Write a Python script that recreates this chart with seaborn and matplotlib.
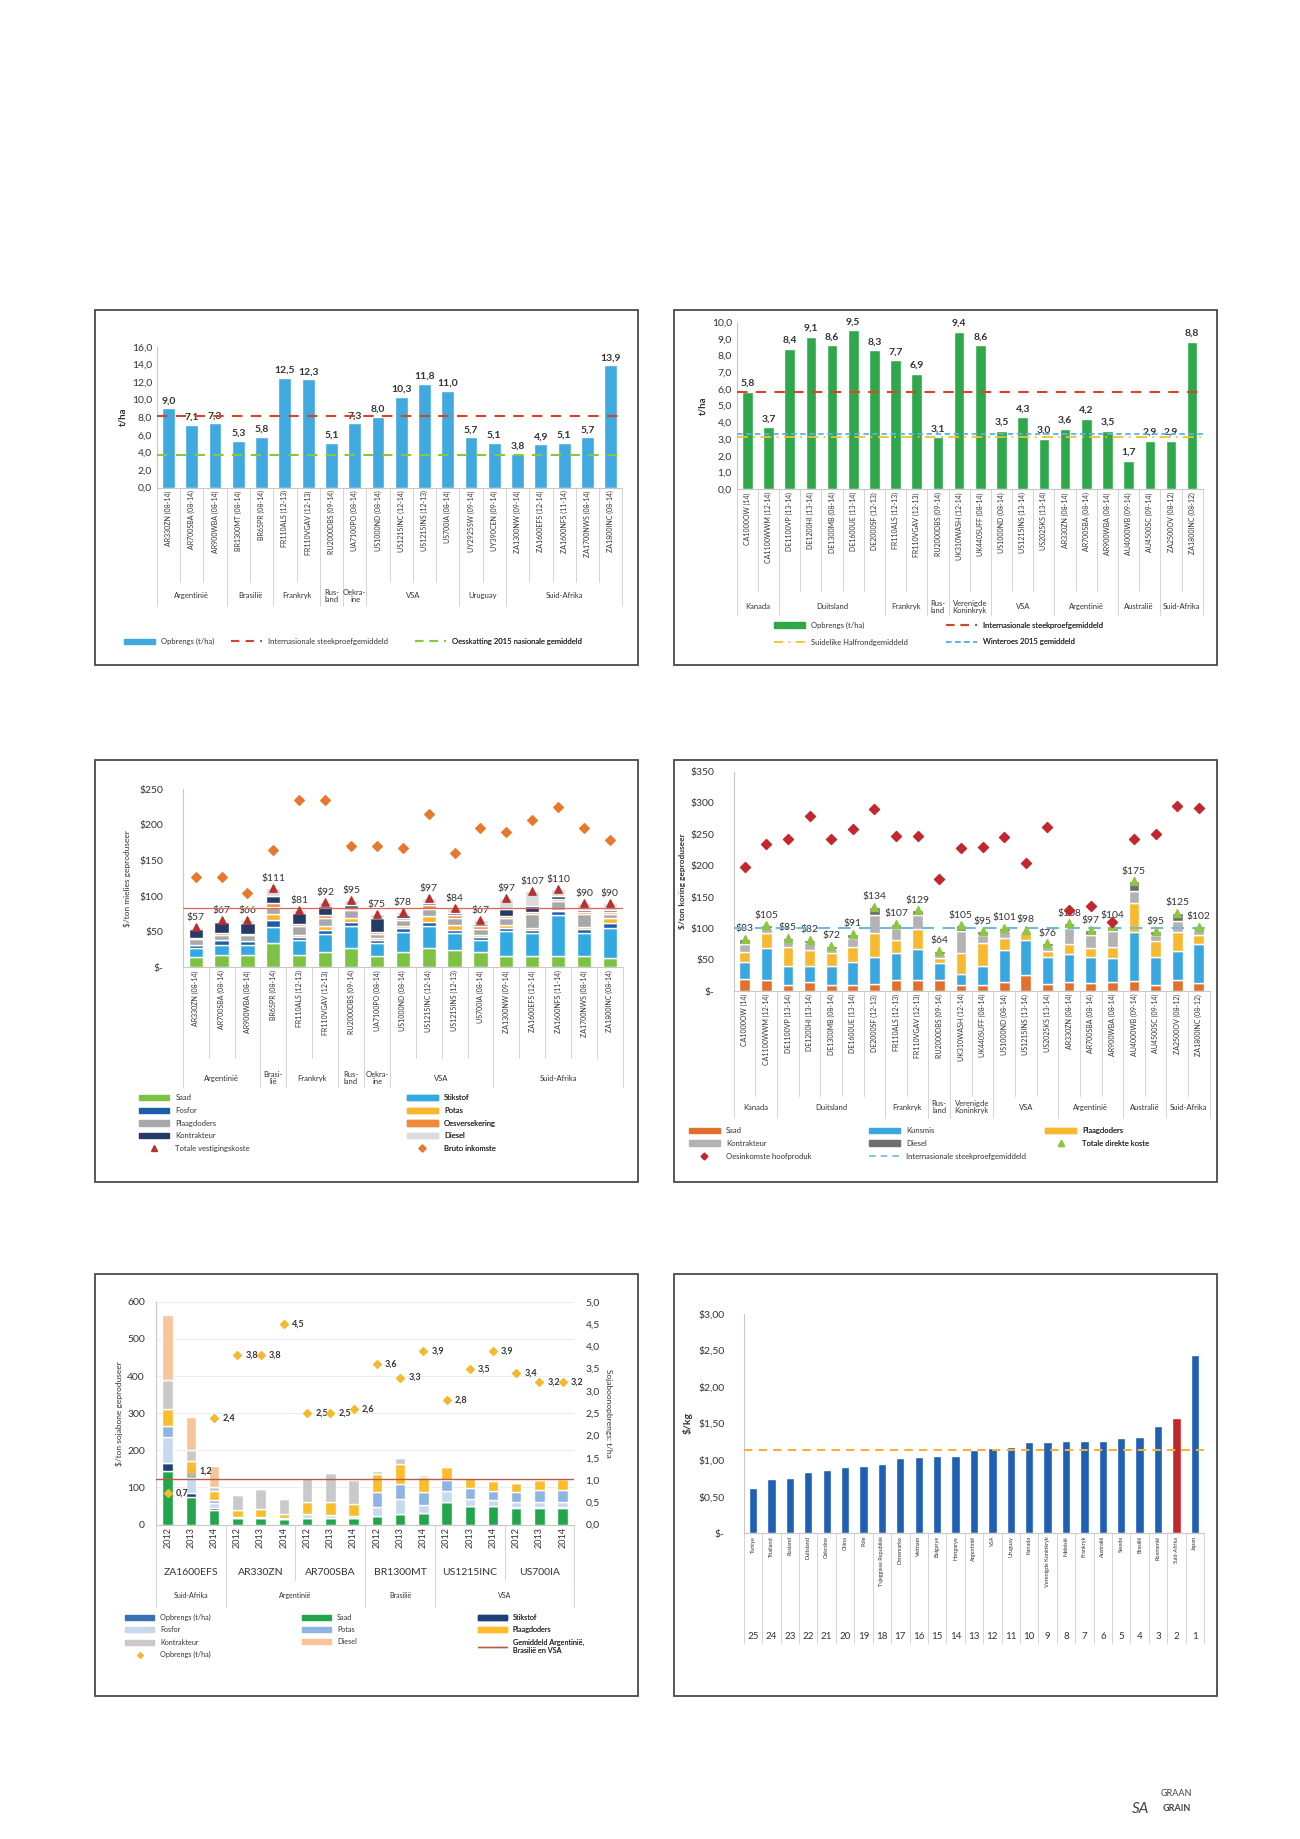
import numpy as np
import pandas as pd
import matplotlib
matplotlib.use('Agg')
import matplotlib.pyplot as plt
from matplotlib.patches import Rectangle, Patch
from matplotlib.lines import Line2D
import seaborn as sns

sns.set_theme(style='white')
plt.rcParams['font.family'] = ['Lato', 'DejaVu Sans']

# ---- Chart 1: maize yields (t/ha)
maize_farms = ['AR330ZN (08-14)', 'AR700SBA (08-14)', 'AR900WBA (08-14)', 'BR1300MT (08-14)',
               'BR65PR (08-14)', 'FR110ALS (12-13)', 'FR110VGAV (12-13)', 'RU2000DBS (09-14)',
               'UA7100PO (08-14)', 'US1000ND (08-14)', 'US1215INC (12-14)', 'US1215INS (12-13)',
               'US700IA (08-14)', 'UY2925SW (09-14)', 'UY390CEN (09-14)', 'ZA1300NW (09-14)',
               'ZA1600EFS (12-14)', 'ZA1600NFS (11-14)', 'ZA1700NWS (08-14)', 'ZA1800INC (08-14)']
maize_yield = [9.0, 7.1, 7.3, 5.3, 5.8, 12.5, 12.3, 5.1, 7.3, 8.0,
               10.3, 11.8, 11.0, 5.7, 5.1, 3.8, 4.9, 5.1, 5.7, 13.9]
maize_groups = [('Argentinië', 3), ('Brasilië', 2), ('Frankryk', 2), ('Rus-\nland', 1),
                ('Oekra-\nïne', 1), ('VSA', 4), ('Uruguay', 2), ('Suid-Afrika', 5)]
maize_intl_avg = 8.1
maize_sa_estimate = 3.7

# ---- Chart 2: wheat yields (t/ha)
wheat_farms = ['CA1000OW (14)', 'CA1100WWM (12-14)', 'DE1100VP (13-14)', 'DE1200HI (13-14)',
               'DE1300MB (08-14)', 'DE1600UE (13-14)', 'DE2000SF (12-13)', 'FR110ALS (12-13)',
               'FR110VGAV (12-13)', 'RU2000DBS (09-14)', 'UK310WASH (12-14)', 'UK440SUFF (08-14)',
               'US1000ND (08-14)', 'US1215INS (13-14)', 'US2025KS (13-14)', 'AR330ZN (08-14)',
               'AR700SBA (08-14)', 'AR900WBA (08-14)', 'AU4000WB (09-14)', 'AU4500SC (09-14)',
               'ZA2500OV (08-12)', 'ZA1800INC (08-12)']
wheat_yield = [5.8, 3.7, 8.4, 9.1, 8.6, 9.5, 8.3, 7.7, 6.9, 3.1, 9.4,
               8.6, 3.5, 4.3, 3.0, 3.6, 4.2, 3.5, 1.7, 2.9, 2.9, 8.8]
wheat_groups = [('Kanada', 2), ('Duitsland', 5), ('Frankryk', 2), ('Rus-\nland', 1),
                ('Verenigde\nKoninkryk', 2), ('VSA', 3), ('Argentinië', 3),
                ('Australië', 2), ('Suid-Afrika', 2)]
wheat_intl_avg = 5.8
wheat_south_avg = 3.1
wheat_2015_avg = 3.3

# ---- Chart 3: maize cost per ton ($/ton)
mc_farms = ['AR330ZN (08-14)', 'AR700SBA (08-14)', 'AR900WBA (08-14)', 'BR65PR (08-14)',
            'FR110ALS (12-13)', 'FR110VGAV (12-13)', 'RU2000DBS (09-14)', 'UA7100PO (08-14)',
            'US1000ND (08-14)', 'US1215INC (12-14)', 'US1215INS (12-13)', 'US700IA (08-14)',
            'ZA1300NW (09-14)', 'ZA1600EFS (12-14)', 'ZA1600NFS (11-14)', 'ZA1700NWS (08-14)',
            'ZA1800INC (08-14)']
mc_groups = [('Argentinië', 3), ('Brasi-\nlië', 1), ('Frankryk', 2), ('Rus-\nland', 1),
             ('Oekra-\nïne', 1), ('VSA', 4), ('Suid-Afrika', 5)]
mc_saad = [15, 18, 18, 35, 18, 22, 28, 16, 22, 28, 24, 22, 16, 16, 16, 16, 13]
mc_stikstof = [12, 14, 13, 22, 20, 25, 30, 18, 28, 30, 24, 17, 35, 32, 58, 33, 43]
mc_fosfor = [5, 6, 6, 10, 5, 6, 6, 5, 5, 6, 5, 4, 5, 5, 5, 5, 6]
mc_potas = [0, 0, 0, 8, 3, 5, 5, 2, 3, 8, 6, 3, 3, 2, 2, 3, 8]
mc_plaag = [8, 8, 8, 10, 12, 12, 12, 6, 8, 10, 10, 8, 10, 20, 12, 18, 5]
mc_oes = [2, 2, 2, 5, 3, 4, 3, 3, 4, 5, 5, 4, 3, 3, 3, 3, 3]
mc_kontrakteur = [12, 16, 16, 10, 15, 12, 3, 20, 3, 3, 3, 3, 10, 8, 4, 3, 2]
mc_diesel = [3, 3, 3, 11, 5, 6, 8, 5, 5, 7, 7, 6, 15, 21, 10, 9, 10]
mc_total = [57, 67, 66, 111, 81, 92, 95, 75, 78, 97, 84, 67, 97, 107, 110, 90, 90]
mc_bruto = [127, 127, 105, 165, 235, 235, 170, 170, 168, 215, 160, 195, 190, 207, 225, 195, 178]
mc_intl_avg = 84

# ---- Chart 4: wheat cost per ton ($/ton)
wc_saad = [20, 18, 10, 14, 10, 10, 12, 18, 17, 18, 10, 10, 15, 25, 12, 14, 13, 15, 16, 10, 18, 13]
wc_kunsmis = [27, 50, 30, 26, 30, 36, 43, 42, 50, 27, 17, 30, 50, 57, 42, 45, 41, 38, 78, 45, 46, 62]
wc_plaag = [16, 25, 30, 25, 20, 25, 37, 22, 32, 8, 33, 37, 20, 10, 10, 16, 14, 18, 47, 25, 30, 15]
wc_kontrakteur = [12, 7, 10, 11, 7, 14, 30, 18, 22, 6, 35, 12, 10, 4, 8, 25, 22, 25, 18, 10, 18, 8]
wc_diesel = [8, 5, 5, 6, 5, 6, 12, 7, 8, 5, 10, 6, 6, 2, 4, 8, 7, 8, 16, 5, 13, 4]
wc_total = [83, 105, 85, 82, 72, 91, 134, 107, 129, 64, 105, 95, 101, 98, 76, 108, 97, 104, 175, 95, 125, 102]
wc_income = [198, 235, 242, 280, 243, 258, 290, 248, 248, 178, 228, 230, 245, 205, 262,
             130, 135, 110, 242, 250, 295, 292]
wc_intl_avg = 100

# ---- Chart 5: soybean cost per ton and yield
soy_farms = ['ZA1600EFS', 'AR330ZN', 'AR700SBA', 'BR1300MT', 'US1215INC', 'US700IA']
soy_years = ['2012', '2013', '2014']
soy_groups = [('Suid-Afrika', 3), ('Argentinië', 6), ('Brasilië', 3), ('VSA', 6)]
soy_saad = [145, 75, 40, 18, 18, 15, 18, 18, 18, 22, 28, 32, 60, 50, 50, 45, 45, 45]
soy_stikstof = [20, 10, 5, 0, 0, 0, 0, 0, 0, 0, 0, 0, 0, 0, 0, 2, 2, 2]
soy_fosfor = [70, 40, 12, 3, 3, 3, 10, 8, 5, 25, 40, 20, 30, 20, 15, 15, 15, 15]
soy_potas = [30, 20, 10, 0, 0, 0, 0, 0, 0, 40, 40, 35, 30, 28, 25, 25, 30, 30]
soy_plaag = [45, 25, 23, 19, 20, 10, 32, 35, 32, 50, 55, 40, 35, 27, 27, 25, 28, 30]
soy_kontrakteur = [80, 30, 10, 40, 56, 42, 65, 77, 65, 8, 17, 6, 3, 3, 3, 0, 0, 0]
soy_diesel = [175, 90, 58, 0, 0, 0, 0, 0, 0, 0, 0, 0, 0, 0, 0, 0, 0, 0]
soy_yield = [0.7, 1.2, 2.4, 3.8, 3.8, 4.5, 2.5, 2.5, 2.6, 3.6, 3.3, 3.9, 2.8, 3.5, 3.9, 3.4, 3.2, 3.2]
soy_avg = 122

# ---- Chart 6: price per kg by country
countries = ['Turkye', 'Thailand', 'Rusland', 'Duitsland', 'Oekraïne', 'China', 'Pole',
             'Tsjeggiese Republiek', 'Denemarke', 'Vietnam', 'Bulgarye', 'Hongarye',
             'Argentinië', 'VSA', 'Uruguay', 'Kanada', 'Verenigde Koninkryk', 'Maleisië',
             'Frankryk', 'Australië', 'Swede', 'Brasilië', 'Roemenië', 'Suid-Afrika', 'Japan']
country_price = [0.62, 0.74, 0.75, 0.84, 0.86, 0.91, 0.92, 0.95, 1.03, 1.04, 1.06, 1.06, 1.13,
                 1.16, 1.18, 1.24, 1.24, 1.26, 1.26, 1.26, 1.30, 1.31, 1.46, 1.58, 2.43]
country_rank = list(range(25, 0, -1))
price_avg = 1.13

TXT = '#333333'
GRID = '#d4d4d4'


def dec(v, nd=1):
    return f'{v:.{nd}f}'.replace('.', ',')


def dollar(v):
    return '$-' if v == 0 else f'${v:.0f}'


def panel(fig, box, rect):
    fig.patches.append(Rectangle(box[:2], box[2], box[3], transform=fig.transFigure,
                                 fill=False, ec='#4a4a4a', lw=1.3))
    ax = fig.add_axes(rect)
    for s in ['top', 'right']:
        ax.spines[s].set_visible(False)
    for s in ['left', 'bottom']:
        ax.spines[s].set_color('#c8c8c8')
        ax.spines[s].set_linewidth(0.8)
    ax.tick_params(axis='both', length=0, colors=TXT)
    return ax


def category_axis(ax, n, groups, tick_depth, group_depth, label_y, fs=5.5):
    tr = ax.get_xaxis_transform()
    edges = [-0.5]
    centers = []
    start = 0
    for name, cnt in groups:
        centers.append(start + (cnt - 1) / 2)
        start += cnt
        edges.append(start - 0.5)
    for b in np.arange(-0.5, n, 1.0):
        depth = group_depth if min(abs(b - e) for e in edges) < 1e-6 else tick_depth
        ax.plot([b, b], [0, -depth], transform=tr, color=GRID, lw=0.7, clip_on=False)
    for (name, cnt), c in zip(groups, centers):
        ax.text(c, label_y, name, transform=tr, ha='center', va='center', fontsize=fs,
                color=TXT, linespacing=1.0)


def legend_cols(ax, cols, xs, y, fs=5.5, hl=4.0, ls=0.75):
    for items, x in zip(cols, xs):
        lg = ax.legend(handles=[h for h, _ in items], labels=[l for _, l in items],
                       loc='upper left', bbox_to_anchor=(x, y), frameon=False, fontsize=fs,
                       handlelength=hl, labelspacing=ls, borderaxespad=0, borderpad=0,
                       handletextpad=0.8, labelcolor=TXT)
        ax.add_artist(lg)


fig = plt.figure(figsize=(13, 18.39), dpi=100)
fig.patch.set_facecolor('white')

# ================= Chart 1 =================
ax1 = panel(fig, (0.0727, 0.6382, 0.4182, 0.1934), [0.1207, 0.7349, 0.358, 0.0765])
df1 = pd.DataFrame({'farm': maize_farms, 'yield': maize_yield})
sns.barplot(data=df1, x='farm', y='yield', color='#3fa9e0', saturation=1, width=0.55, ax=ax1)
ax1.axhline(maize_intl_avg, color='#d9412b', ls=(0, (5, 4)), lw=1.5, zorder=4)
ax1.axhline(maize_sa_estimate, color='#8cc63f', ls=(0, (5, 4)), lw=1.5, zorder=4)
for i, v in enumerate(maize_yield):
    ax1.text(i, v + 0.35, dec(v), ha='center', va='bottom', fontsize=7.5, fontweight='bold', color=TXT)
ax1.set_ylim(0, 16)
ax1.set_yticks(np.arange(0, 17, 2))
ax1.set_yticklabels([dec(t) for t in np.arange(0, 17, 2)], fontsize=7.5)
ax1.set_xlim(-0.5, len(maize_farms) - 0.5)
ax1.set_xticks(range(len(maize_farms)))
ax1.set_xticklabels(maize_farms, rotation=90, fontsize=5)
ax1.tick_params(axis='x', pad=2)
ax1.set_xlabel('')
ax1.set_ylabel('t/ha', fontsize=7, fontweight='bold', color=TXT, labelpad=3)
category_axis(ax1, len(maize_farms), maize_groups, 0.67, 0.84, -0.77)
legend_cols(ax1, [[(Patch(color='#3fa9e0'), 'Opbrengs (t/ha)')],
                  [(Line2D([], [], color='#d9412b', ls=(0, (4, 3)), lw=1.5), 'Internasionale steekproefgemiddeld')],
                  [(Line2D([], [], color='#8cc63f', ls=(0, (4, 3)), lw=1.5), 'Oesskatting 2015 nasionale gemiddeld')]],
            [-0.07, 0.16, 0.555], -1.07)

# ================= Chart 2 =================
ax2 = panel(fig, (0.5182, 0.6382, 0.4182, 0.1934), [0.5667, 0.7339, 0.3585, 0.091])
df2 = pd.DataFrame({'farm': wheat_farms, 'yield': wheat_yield})
sns.barplot(data=df2, x='farm', y='yield', color='#2ea84a', saturation=1, width=0.5, ax=ax2)
ax2.axhline(wheat_intl_avg, color='#d8432c', ls=(0, (5, 4)), lw=1.5, zorder=4)
ax2.axhline(wheat_south_avg, color='#f2c12e', ls=(0, (6, 3, 1, 3)), lw=1.3, zorder=4)
ax2.axhline(wheat_2015_avg, color='#5bb4e5', ls=(0, (3, 2)), lw=1.3, zorder=4)
for i, v in enumerate(wheat_yield):
    ax2.text(i, v + 0.25, dec(v), ha='center', va='bottom', fontsize=7.5, fontweight='bold', color=TXT)
ax2.set_ylim(0, 10)
ax2.set_yticks(np.arange(0, 11, 1))
ax2.set_yticklabels([dec(t) for t in np.arange(0, 11, 1)], fontsize=7.5)
ax2.set_xlim(-0.5, len(wheat_farms) - 0.5)
ax2.set_xticks(range(len(wheat_farms)))
ax2.set_xticklabels(wheat_farms, rotation=90, fontsize=5)
ax2.tick_params(axis='x', pad=2)
ax2.set_xlabel('')
ax2.set_ylabel('t/ha', fontsize=7, fontweight='bold', color=TXT, labelpad=3)
category_axis(ax2, len(wheat_farms), wheat_groups, 0.61, 0.75, -0.70)
legend_cols(ax2, [[(Patch(color='#2ea84a'), 'Opbrengs (t/ha)'),
                   (Line2D([], [], color='#f2c12e', ls=(0, (5, 3, 1, 3)), lw=1.3), 'Suidelike Halfrondgemiddeld')],
                  [(Line2D([], [], color='#d8432c', ls=(0, (4, 3)), lw=1.5), 'Internasionale steekproefgemiddeld'),
                   (Line2D([], [], color='#5bb4e5', ls=(0, (3, 2)), lw=1.3), 'Winteroes 2015 gemiddeld')]],
            [0.08, 0.45], -0.79, ls=1.3)

# ================= Chart 3 =================
ax3 = panel(fig, (0.0727, 0.3573, 0.4182, 0.2295), [0.1406, 0.4739, 0.3385, 0.097])
mc_parts = [('Saad', mc_saad, '#7dc242'), ('Stikstof', mc_stikstof, '#33a9e1'),
            ('Fosfor', mc_fosfor, '#1d5ea8'), ('Potas', mc_potas, '#f8b62d'),
            ('Plaagdoders', mc_plaag, '#a8a8a8'), ('Oesversekering', mc_oes, '#ef8a3a'),
            ('Kontrakteur', mc_kontrakteur, '#243b68'), ('Diesel', mc_diesel, '#dcdcdc')]
x3 = np.arange(len(mc_farms))
bottom = np.zeros(len(mc_farms))
for name, vals, col in mc_parts:
    ax3.bar(x3, vals, bottom=bottom, width=0.55, color=col, label=name)
    bottom += np.array(vals)
ax3.axhline(mc_intl_avg, color='#e2664f', lw=0.9, zorder=4)
ax3.scatter(x3, mc_total, marker='^', s=28, color='#b8312f', zorder=5)
ax3.scatter(x3, mc_bruto, marker='D', s=24, color='#e8782c', zorder=5)
for i, v in enumerate(mc_total):
    ax3.text(i, v + 7, f'${v}', ha='center', va='bottom', fontsize=7.5, color=TXT)
ax3.set_ylim(0, 250)
ax3.set_yticks(np.arange(0, 251, 50))
ax3.set_yticklabels([dollar(t) for t in np.arange(0, 251, 50)], fontsize=7.5)
ax3.set_xlim(-0.5, len(mc_farms) - 0.5)
ax3.set_xticks(x3)
ax3.set_xticklabels(mc_farms, rotation=90, fontsize=5)
ax3.tick_params(axis='x', pad=2)
ax3.tick_params(axis='y', pad=14)
ax3.set_ylabel('$/ton mielies geproduseer', fontsize=6, color=TXT, labelpad=6)
category_axis(ax3, len(mc_farms), mc_groups, 0.51, 0.67, -0.62)
sw = lambda c: Patch(color=c)
legend_cols(ax3, [[(sw('#7dc242'), 'Saad'), (sw('#1d5ea8'), 'Fosfor'), (sw('#a8a8a8'), 'Plaagdoders'),
                   (sw('#243b68'), 'Kontrakteur'),
                   (Line2D([], [], marker='^', ls='', color='#b8312f', ms=4), 'Totale vestigingskoste')],
                  [(sw('#33a9e1'), 'Stikstof'), (sw('#f8b62d'), 'Potas'), (sw('#ef8a3a'), 'Oesversekering'),
                   (sw('#dcdcdc'), 'Diesel'),
                   (Line2D([], [], marker='D', ls='', color='#e8782c', ms=3.5), 'Bruto inkomste')]],
            [-0.10, 0.51], -0.71)

# ================= Chart 4 =================
ax4 = panel(fig, (0.5182, 0.3573, 0.4182, 0.2295), [0.5645, 0.4611, 0.366, 0.1193])
wc_parts = [('Saad', wc_saad, '#e2702c'), ('Kunsmis', wc_kunsmis, '#3aa7de'),
            ('Plaagdoders', wc_plaag, '#f6b92f'), ('Kontrakteur', wc_kontrakteur, '#b3b3b3'),
            ('Diesel', wc_diesel, '#6e6e6e')]
x4 = np.arange(len(wheat_farms))
bottom = np.zeros(len(wheat_farms))
for name, vals, col in wc_parts:
    ax4.bar(x4, vals, bottom=bottom, width=0.5, color=col, label=name)
    bottom += np.array(vals)
ax4.axhline(wc_intl_avg, color='#72b9e2', ls=(0, (6, 4)), lw=1.5, zorder=4)
ax4.scatter(x4, wc_total, marker='^', s=32, color='#8dc63f', zorder=5)
ax4.scatter(x4, wc_income, marker='D', s=26, color='#c1272d', zorder=5)
for i, v in enumerate(wc_total):
    ax4.text(i, v + 9, f'${v}', ha='center', va='bottom', fontsize=7.5, color=TXT)
ax4.set_ylim(0, 350)
ax4.set_yticks(np.arange(0, 351, 50))
ax4.set_yticklabels([dollar(t) for t in np.arange(0, 351, 50)], fontsize=7.5)
ax4.set_xlim(-0.5, len(wheat_farms) - 0.5)
ax4.set_xticks(x4)
ax4.set_xticklabels(wheat_farms, rotation=90, fontsize=5)
ax4.tick_params(axis='x', pad=2)
ax4.tick_params(axis='y', pad=14)
ax4.set_ylabel('$/ton koring geproduseer', fontsize=6, fontweight='bold', color=TXT, labelpad=3)
category_axis(ax4, len(wheat_farms), wheat_groups, 0.48, 0.58, -0.53)
legend_cols(ax4, [[(sw('#e2702c'), 'Saad'), (sw('#b3b3b3'), 'Kontrakteur'),
                   (Line2D([], [], marker='D', ls='', color='#c1272d', ms=3.5), 'Oesinkomste hoofproduk')],
                  [(sw('#3aa7de'), 'Kunsmis'), (sw('#6e6e6e'), 'Diesel'),
                   (Line2D([], [], color='#72b9e2', ls=(0, (4, 3)), lw=1.2), 'Internasionale steekproefgemiddeld')],
                  [(sw('#f6b92f'), 'Plaagdoders'),
                   (Line2D([], [], marker='^', ls='', color='#8dc63f', ms=4), 'Totale direkte koste')]],
            [-0.094, 0.285, 0.655], -0.62)

# ================= Chart 5 =================
ax5 = panel(fig, (0.0727, 0.0778, 0.4182, 0.2294), [0.12, 0.171, 0.3218, 0.1211])
ax5.yaxis.grid(True, color='#ececec', lw=0.7)
ax5.set_axisbelow(True)
soy_parts = [('Saad', soy_saad, '#21a64b'), ('Stikstof', soy_stikstof, '#1f3f7a'),
             ('Fosfor', soy_fosfor, '#c6d9f1'), ('Potas', soy_potas, '#8eb4e3'),
             ('Plaagdoders', soy_plaag, '#fbbd2a'), ('Kontrakteur', soy_kontrakteur, '#c9c9c9'),
             ('Diesel', soy_diesel, '#f9c49a')]
n5 = len(soy_yield)
x5 = np.arange(n5)
bottom = np.zeros(n5)
for name, vals, col in soy_parts:
    ax5.bar(x5, vals, bottom=bottom, width=0.45, color=col, label=name)
    bottom += np.array(vals)
ax5.axhline(soy_avg, color='#b85a4c', lw=1.0, zorder=4)
ax5.set_ylim(0, 600)
ax5.set_yticks(np.arange(0, 601, 100))
ax5.set_yticklabels([str(t) for t in np.arange(0, 601, 100)], fontsize=7.5)
ax5.tick_params(axis='y', pad=8)
ax5.set_xlim(-0.5, n5 - 0.5)
ax5.set_xticks(x5)
ax5.set_xticklabels(soy_years * len(soy_farms), rotation=90, fontsize=6.5)
ax5.tick_params(axis='x', pad=2)
ax5.set_ylabel('$/ton sojabone geproduseer', fontsize=6, color=TXT, labelpad=3)
tr5 = ax5.get_xaxis_transform()
for j, farm in enumerate(soy_farms):
    ax5.text(j * 3 + 1, -0.215, farm, transform=tr5, ha='center', va='center', fontsize=7.5, color=TXT)
    ax5.plot([j * 3 - 0.5] * 2, [0, -0.25], transform=tr5, color=GRID, lw=0.7, clip_on=False)
ax5.plot([n5 - 0.5] * 2, [0, -0.25], transform=tr5, color=GRID, lw=0.7, clip_on=False)
category_axis(ax5, n5, soy_groups, 0.0, 0.37, -0.32, fs=5)
ax5b = ax5.twinx()
ax5b.set_ylim(0, 5)
ax5b.set_yticks(np.arange(0, 5.01, 0.5))
ax5b.set_yticklabels([dec(t) for t in np.arange(0, 5.01, 0.5)], fontsize=7.5, color=TXT)
ax5b.tick_params(axis='y', length=0, pad=8)
for s in ['top', 'right', 'left', 'bottom']:
    ax5b.spines[s].set_visible(False)
ax5b.scatter(x5, soy_yield, marker='D', s=16, color='#f5b82e', zorder=6)
for i, v in enumerate(soy_yield):
    ax5b.text(i + 0.35, v, dec(v), ha='left', va='center', fontsize=6.5, fontweight='bold', color=TXT)
ax5b.set_ylabel('Sojaboonopbrengs: t/ha', fontsize=6, color=TXT, rotation=270, labelpad=9)
legend_cols(ax5, [[(sw('#3b6fb6'), 'Opbrengs (t/ha)'), (sw('#c6d9f1'), 'Fosfor'), (sw('#c9c9c9'), 'Kontrakteur'),
                   (Line2D([], [], marker='D', ls='', color='#f5b82e', ms=3), 'Opbrengs (t/ha)')],
                  [(sw('#21a64b'), 'Saad'), (sw('#8eb4e3'), 'Potas'), (sw('#f9c49a'), 'Diesel')],
                  [(sw('#1f3f7a'), 'Stikstof'), (sw('#fbbd2a'), 'Plaagdoders'),
                   (Line2D([], [], color='#b85a4c', lw=1.0), 'Gemiddeld Argentinië,\nBrasilië en VSA')]],
            [-0.073, 0.35, 0.77], -0.40, fs=5.2)

# ================= Chart 6 =================
ax6 = panel(fig, (0.5182, 0.0778, 0.4182, 0.2294), [0.5722, 0.1663, 0.354, 0.1194])
df6 = pd.DataFrame({'country': countries, 'price': country_price})
bar_cols = {c: ('#c1272d' if c == 'Suid-Afrika' else '#1f5fb4') for c in countries}
sns.barplot(data=df6, x='country', y='price', hue='country', palette=bar_cols, legend=False,
            saturation=1, width=0.45, ax=ax6)
ax6.axhline(price_avg, color='#f5b335', ls=(0, (4, 3)), lw=1.5, zorder=4)
ax6.set_ylim(0, 3)
ax6.set_yticks(np.arange(0, 3.01, 0.5))
ax6.set_yticklabels(['$-'] + [f'${dec(t, 2)}' for t in np.arange(0.5, 3.01, 0.5)], fontsize=7.5)
ax6.tick_params(axis='y', pad=14)
ax6.set_xlim(-0.5, len(countries) - 0.5)
ax6.set_xticks(range(len(countries)))
ax6.set_xticklabels(countries, rotation=90, fontsize=4)
ax6.tick_params(axis='x', pad=2)
ax6.set_xlabel('')
ax6.set_ylabel('$/kg', fontsize=7.5, fontweight='bold', color=TXT, labelpad=4)
tr6 = ax6.get_xaxis_transform()
for i, r in enumerate(country_rank):
    ax6.text(i, -0.47, str(r), transform=tr6, ha='center', va='center', fontsize=7, color=TXT)
category_axis(ax6, len(countries), [], 0.50, 0.50, 0)

# ---- logo
fig.text(0.905, 0.0245, 'GRAAN', fontsize=6.5, color='#444444', ha='center', va='center')
fig.text(0.877, 0.0165, 'SA', fontsize=11, style='italic', color='#444444', ha='center', va='center')
fig.text(0.905, 0.0165, 'GRAIN', fontsize=6.5, fontweight='bold', color='#444444', ha='center', va='center')

fig.savefig('out.png', dpi=100, facecolor='white')
